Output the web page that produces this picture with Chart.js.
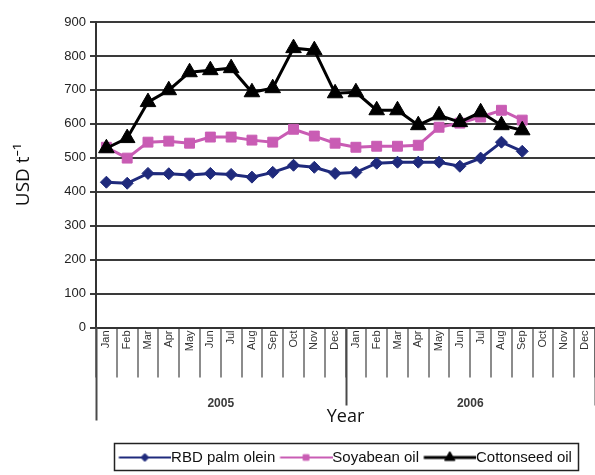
<!DOCTYPE html>
<html>
<head>
<meta charset="utf-8">
<script src="https://cdn.jsdelivr.net/npm/chart.js@4.4.1/dist/chart.umd.min.js"></script>
<style>
  html, body { margin: 0; padding: 0; background: #ffffff; }
  #wrap { width: 595px; height: 475px; position: relative; }
</style>
</head>
<body>
<div id="wrap"><canvas id="chart" width="595" height="475"></canvas></div>
<script>
// Monthly prices, USD per tonne, Jan 2005 – Dec 2006
const months = ['Jan', 'Feb', 'Mar', 'Apr', 'May', 'Jun', 'Jul', 'Aug', 'Sep', 'Oct', 'Nov', 'Dec'];
const years = ['2005', '2006'];
const monthLabels = months.concat(months);

const palmOlein     = [428, 425, 454, 453, 449, 454, 451, 443, 457, 478, 472, 454,
                       457, 484, 487, 487, 487, 475, 499, 546, 519, null, null, null];
const soyabeanOil   = [531, 499, 546, 549, 543, 561, 561, 552, 546, 584, 564, 543,
                       531, 534, 534, 537, 590, 602, 620, 640, 611, null, null, null];
const cottonseedOil = [528, 558, 664, 699, 752, 758, 764, 693, 705, 823, 817, 690,
                       693, 640, 640, 596, 625, 605, 634, 596, 581, null, null, null];

const yMin = 0, yMax = 900, yStep = 100;

const seriesNames = ['RBD palm olein', 'Soyabean oil', 'Cottonseed oil'];

const NAVY = '#1f2a7c';
const PINK = '#c95cb4';
const BLACK = '#000000';
const SANS = '"Liberation Sans", Arial, sans-serif';
const HUMANIST = '"Open Sans", "Noto Sans", sans-serif';
const LEGEND_FONT = 15;
const SWATCH = 52;

// Small line-with-marker swatch used as the legend symbol
function legendSwatch(color, style, lineWidth, radius) {
  const half = LEGEND_FONT / 2;
  const w = Math.round(SWATCH + half), h = 20;
  const c = document.createElement('canvas');
  c.width = w; c.height = h;
  const g = c.getContext('2d');
  g.strokeStyle = color;
  g.lineWidth = lineWidth;
  g.beginPath();
  g.moveTo(half, h / 2);
  g.lineTo(w, h / 2);
  g.stroke();
  g.fillStyle = color;
  g.strokeStyle = color;
  g.lineWidth = 1;
  Chart.helpers.drawPoint(g, { pointStyle: style, radius: radius, borderWidth: 1 }, half + SWATCH / 2, h / 2);
  return c;
}

// Month separators are grid ticks; this adds the year dividers, year names and legend frame
const axisDecor = {
  id: 'axisDecor',
  afterDraw(chart) {
    const ctx = chart.ctx;
    const xs = chart.scales.x;
    const halfBand = (xs.getPixelForValue(1) - xs.getPixelForValue(0)) / 2;
    const top = xs.top;
    const groups = [];
    for (let i = 0; i < years.length; i++) {
      const a = xs.getPixelForValue(i * 12) - halfBand;
      const b = xs.getPixelForValue(i * 12 + 11) + halfBand;
      groups.push([a, b]);
    }
    ctx.save();
    ctx.strokeStyle = '#4a4a4a';
    ctx.lineWidth = 2;
    groups.forEach((g, i) => {
      const x0 = Math.round(g[0]) + 0.5;
      ctx.beginPath();
      ctx.moveTo(x0, top);
      ctx.lineTo(x0, i === 0 ? top + 93 : top + 78);
      ctx.stroke();
    });
    const xe = Math.round(groups[groups.length - 1][1]) + 0.5;
    ctx.beginPath();
    ctx.moveTo(xe, top);
    ctx.lineTo(xe, top + 78);
    ctx.stroke();

    ctx.fillStyle = '#3a3a3a';
    ctx.font = 'bold 12px ' + SANS;
    ctx.textAlign = 'center';
    ctx.textBaseline = 'middle';
    groups.forEach((g, i) => {
      ctx.fillText(years[i], (g[0] + g[1]) / 2, top + 76);
    });

    const lg = chart.legend;
    if (lg && lg.legendHitBoxes && lg.legendHitBoxes.length) {
      const hb = lg.legendHitBoxes;
      const first = hb[0], last = hb[hb.length - 1];
      const l = Math.round(first.left) - 4.5;
      const r = Math.round(last.left + last.width) + 6.5;
      const t = Math.round(first.top) - 6.5;
      const btm = Math.round(first.top + first.height) + 5.5;
      ctx.strokeStyle = '#222';
      ctx.lineWidth = 1.5;
      ctx.strokeRect(l, t, r - l, btm - t);
    }
    ctx.restore();
  }
};

const swatches = [
  legendSwatch(NAVY, 'rectRot', 2, 4),
  legendSwatch(PINK, 'rect', 2, 4),
  legendSwatch(BLACK, 'triangle', 3, 6)
];

new Chart(document.getElementById('chart'), {
  type: 'line',
  data: {
    labels: monthLabels,
    datasets: [
      {
        label: seriesNames[0], data: palmOlein, order: 2,
        borderColor: NAVY, backgroundColor: NAVY, borderWidth: 3,
        pointStyle: 'rectRot', pointRadius: 6, pointBorderWidth: 1, tension: 0
      },
      {
        label: seriesNames[1], data: soyabeanOil, order: 1,
        borderColor: PINK, backgroundColor: PINK, borderWidth: 3,
        pointStyle: 'rect', pointRadius: 7, pointBorderWidth: 1, tension: 0
      },
      {
        label: seriesNames[2], data: cottonseedOil, order: 0,
        borderColor: BLACK, backgroundColor: BLACK, borderWidth: 3,
        pointStyle: 'triangle', pointRadius: 9, pointBorderWidth: 1, tension: 0
      }
    ]
  },
  options: {
    responsive: false,
    animation: false,
    devicePixelRatio: 1,
    layout: { autoPadding: false, padding: { top: 22, right: -4, left: 0, bottom: 0 } },
    plugins: {
      tooltip: { enabled: false },
      legend: {
        display: true,
        position: 'bottom',
        fullSize: false,
        labels: {
          usePointStyle: true,
          pointStyleWidth: SWATCH - LEGEND_FONT / 2,
          padding: 5,
          color: '#111',
          font: { family: SANS, size: LEGEND_FONT },
          generateLabels(chart) {
            return chart.data.datasets.map((ds, i) => ({
              text: ds.label,
              pointStyle: swatches[i],
              fillStyle: ds.borderColor,
              strokeStyle: ds.borderColor,
              lineWidth: 0,
              hidden: false,
              datasetIndex: i,
              fontColor: '#111'
            }));
          }
        }
      }
    },
    scales: {
      x: {
        type: 'category',
        offset: true,
        grid: {
          display: true, offset: true, drawOnChartArea: false, drawTicks: true,
          tickLength: 50, color: '#8c8c8c', lineWidth: 2
        },
        border: { display: true, color: '#333', width: 2 },
        ticks: {
          autoSkip: false, minRotation: 90, maxRotation: 90, padding: -47,
          color: '#333', font: { family: SANS, size: 11 }
        },
        title: {
          display: true, text: 'Year', color: '#111',
          font: { family: HUMANIST, size: 18 },
          padding: { top: 0, bottom: 17.5 }
        },
        afterFit(scale) {
          scale.height = 117.5;
          scale.paddingLeft = 0;
          scale.paddingRight = 0;
        }
      },
      y: {
        min: yMin, max: yMax,
        ticks: {
          stepSize: yStep, padding: 4, color: '#222',
          font: { family: SANS, size: 13 }
        },
        grid: { color: '#3a3a3a', lineWidth: 2, tickLength: 6, drawTicks: true },
        border: { display: true, color: '#333', width: 2 },
        title: {
          display: true, text: 'USD t\u207B\u00B9', color: '#111',
          font: { family: HUMANIST, size: 19 },
          padding: { top: 12, bottom: 0 }
        },
        afterFit(scale) { scale.width = 96; }
      }
    }
  },
  plugins: [axisDecor]
});
</script>
</body>
</html>
